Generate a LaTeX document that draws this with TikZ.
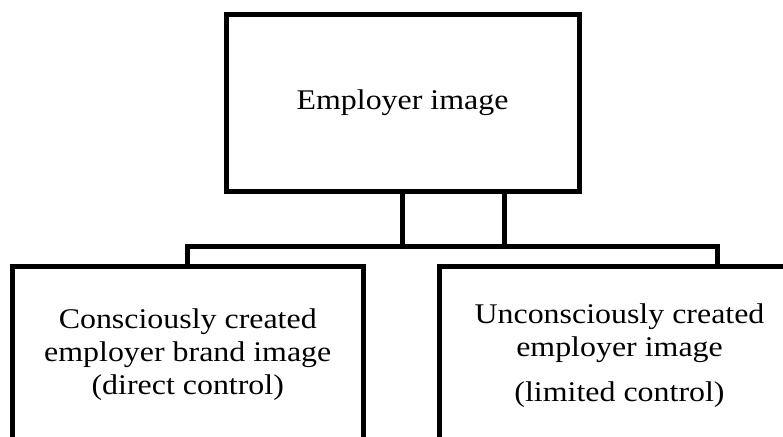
\documentclass[tikz,border=0pt]{standalone}
\usepackage{fontspec}
\setmainfont{Liberation Serif}[FakeStretch=1.12]
\usetikzlibrary{positioning}

\begin{document}
\begin{tikzpicture}[x=1pt,y=-1pt,line join=miter,
    box/.style={draw,line width=5pt,rectangle,inner sep=0pt},
    link/.style={line width=5pt},
    txt/.style={align=center,inner sep=0pt,font=\fontsize{28.5}{33}\selectfont}]
  \useasboundingbox (0,0) rectangle (783,436);
  \clip (0,0) rectangle (783,436);
  % boxes
  \node[box,minimum width=353pt,minimum height=176pt] (top) at (402.5,103)
    {\fontsize{28.5}{33}\selectfont Employer image};
  \node[box,minimum width=350.5pt,minimum height=260pt] (lbox) at (187.75,396) {};
  \node[box,minimum width=361pt,minimum height=260pt] (rbox) at (619.5,396) {};
  \node[txt,below=45pt of lbox.north] (ltext)
    {Consciously created\\employer brand image\\(direct control)};
  \node[txt,below=40pt of rbox.north] (rtext)
    {Unconsciously created\\employer image\\[12pt](limited control)};
  % connectors
  \coordinate (bus) at (0,246);
  \coordinate (tapR) at (504,190.8);
  \coordinate (dropR) at (717.5,266);
  \draw[link] (top.south) -- (top.south |- bus);
  \draw[link] (tapR) -- (tapR |- bus);
  \draw[link] (lbox.north) |- (dropR |- bus) -- (dropR);
\end{tikzpicture}
\end{document}
